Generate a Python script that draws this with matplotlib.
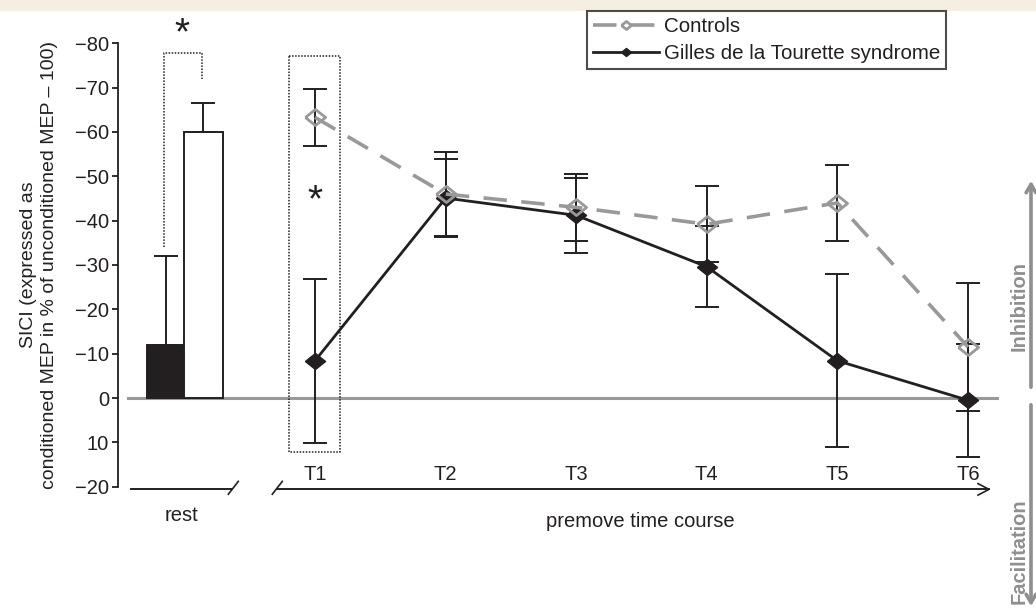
import numpy as np
import matplotlib
matplotlib.use("Agg")
import matplotlib.pyplot as plt
from matplotlib.patches import Rectangle, FancyArrowPatch

plt.rcParams['font.family'] = ['Liberation Sans', 'DejaVu Sans']

# ---------------- data ----------------
timepoints = ["T1", "T2", "T3", "T4", "T5", "T6"]
controls = [-63.3, -46.0, -43.0, -39.2, -44.0, -11.5]
controls_err = [6.5, 9.5, 7.5, 8.6, 8.5, 14.5]
gts = [-8.4, -45.1, -41.2, -29.6, -8.4, 0.5]
gts_err = [18.5, 8.7, 8.5, 9.1, 19.5, 12.7]
rest_labels = ["Gilles de la Tourette syndrome", "Controls"]
rest_values = [-12.0, -60.0]
rest_err = [20.0, 6.5]
yticks = [-80, -70, -60, -50, -40, -30, -20, -10, 0, 10, 20]
ytick_labels = ["\u221280", "\u221270", "\u221260", "\u221250", "\u221240", "\u221230",
                "\u221220", "\u221210", "0", "10", "\u221220"]

BLACK = "#231f20"
GRAY = "#999999"
ARROWGRAY = "#8f8f8f"

W, H = 1036, 613
fig = plt.figure(figsize=(W / 100, H / 100), dpi=100)

# top beige band
fig.add_artist(Rectangle((0, 1 - 10.7 / H), 1, 10.7 / H, transform=fig.transFigure,
                         facecolor="#f4efe1", edgecolor="none", zorder=0))

ax_left, ax_right = 118, 1000
ax_top, ax_bot = 43.3, 486.7
ax = fig.add_axes([ax_left / W, (H - ax_bot) / H, (ax_right - ax_left) / W, (ax_bot - ax_top) / H])
ax.set_facecolor("none")

# x mapping: T1 at 315 px, spacing 130.6 px
def px(x):
    return 1 + (x - 315) / 130.6

ax.set_xlim(px(ax_left), px(ax_right))
ax.set_ylim(20, -80)

for s in ["top", "right", "bottom"]:
    ax.spines[s].set_visible(False)
ax.spines["left"].set_linewidth(1.3)
ax.spines["left"].set_color(BLACK)
ax.set_xticks([])
ax.set_yticks(yticks)
ax.set_yticklabels(ytick_labels, fontsize=14.5, color=BLACK)
ax.tick_params(axis="y", length=4.5, width=1.3, pad=2, colors=BLACK)

ax.set_ylabel("SICI (expressed as\nconditioned MEP in % of unconditioned MEP \u2013 100)",
              fontsize=14, color=BLACK, labelpad=12, linespacing=1.32)

# zero line
ax.plot([px(128), px(997)], [0, 0], color=GRAY, lw=2.2, zorder=1, clip_on=False)

# rest bars (error bars point toward stronger inhibition only)
bar_x = [px(166.3), px(203.4)]
bar_w = 38.6 / 130.6
ax.bar(bar_x, rest_values, width=bar_w, color=[BLACK, "white"], edgecolor=BLACK,
       linewidth=1.4, zorder=3,
       yerr=[rest_err, [0, 0]], error_kw=dict(ecolor=BLACK, elinewidth=1.4, capsize=8.5, capthick=1.4))

# bracket and star for rest
ax.plot([px(163.7), px(163.7), px(202), px(202)], [-34, -77.8, -77.8, -71.9],
        color=BLACK, lw=1.1, ls=(0, (1, 1)), clip_on=False, zorder=2)
ax.text(px(182), -82.0, "*", fontsize=28, ha="center", va="center", color=BLACK, clip_on=False)

# time course
x = np.arange(1, len(timepoints) + 1)
diamond = [(-1, 0), (0, 0.8), (1, 0), (0, -0.8), (-1, 0)]
ax.errorbar(x, gts, yerr=gts_err, fmt="none", ecolor=BLACK, elinewidth=1.4, capsize=8.5,
            capthick=1.4, zorder=4)
ax.errorbar(x, controls, yerr=controls_err, fmt="none", ecolor=BLACK, elinewidth=1.4,
            capsize=8.5, capthick=1.4, zorder=4)
l_gts, = ax.plot(x, gts, color=BLACK, lw=2.0, marker=diamond, markersize=14.5,
                 markerfacecolor=BLACK, markeredgecolor=BLACK, zorder=5,
                 label="Gilles de la Tourette syndrome")
l_ctrl, = ax.plot(x, controls, color=GRAY, lw=2.6, dashes=(6.5, 4), marker=diamond,
                  markersize=14.5, markerfacecolor="none", markeredgecolor=GRAY,
                  markeredgewidth=2.0, zorder=6, label="Controls")

# T1 dotted box and star
ax.add_patch(Rectangle((px(289), -77.2), px(340) - px(289), 12.2 + 77.2, fill=False,
                       edgecolor=BLACK, lw=1.1, ls=(0, (1, 1)), zorder=2, clip_on=False))
ax.text(1, -44.3, "*", fontsize=28, ha="center", va="center", color=BLACK)

# x labels
for xi, t in zip(x, timepoints):
    ax.text(xi, 17.2, t, fontsize=14.5, ha="center", va="center", color=BLACK, clip_on=False)

# bottom broken axis lines
yl = 20.6
ax.plot([px(131), px(231.7)], [yl, yl], color=BLACK, lw=1.4, clip_on=False)
ax.plot([px(228.3), px(238.3)], [21.7, 18.8], color=BLACK, lw=1.2, clip_on=False)
ax.plot([px(272.3), px(282.3)], [21.7, 18.8], color=BLACK, lw=1.2, clip_on=False)
ax.plot([px(277), px(989)], [yl, yl], color=BLACK, lw=1.4, clip_on=False)
ax.plot([px(978), px(989), px(978)], [19.3, yl, 21.9], color=BLACK, lw=1.2, clip_on=False)
ax.text(px(181.7), 26.5, "rest", fontsize=14.5, ha="center", va="center", color=BLACK, clip_on=False)
ax.text(px(640), 27.8, "premove time course", fontsize=14.5, ha="center", va="center",
        color=BLACK, clip_on=False)

# legend
leg = fig.legend(handles=[l_ctrl, l_gts], loc="upper left",
                 bbox_to_anchor=(587 / W, 1 - 11 / H), borderaxespad=0, fontsize=14.8,
                 frameon=True, fancybox=False, edgecolor=BLACK, markerscale=0.5,
                 handlelength=3.2, handletextpad=0.25, borderpad=0.28, labelspacing=0.4)
leg.get_frame().set_linewidth(1.5)
for t in leg.get_texts():
    t.set_color(BLACK)

# right-side Inhibition / Facilitation arrows
fx = 1031 / W
fig.add_artist(FancyArrowPatch((fx, 1 - 390 / H), (fx, 1 - 178 / H),
               transform=fig.transFigure, arrowstyle="->,head_length=6,head_width=3.5",
               color=ARROWGRAY, lw=2.6, mutation_scale=1))
fig.add_artist(FancyArrowPatch((fx, 1 - 402 / H), (fx, 1 - 609 / H),
               transform=fig.transFigure, arrowstyle="->,head_length=6,head_width=3.5",
               color=ARROWGRAY, lw=2.6, mutation_scale=1))
fig.text(1019 / W, 1 - 306 / H, "Inhibition", rotation=90, fontsize=14.5, fontweight="bold",
         color=ARROWGRAY, ha="center", va="center")
fig.text(1019 / W, 1 - 551 / H, "Facilitation", rotation=90, fontsize=14.5, fontweight="bold",
         color=ARROWGRAY, ha="center", va="center")

fig.savefig("out.png", dpi=100)
